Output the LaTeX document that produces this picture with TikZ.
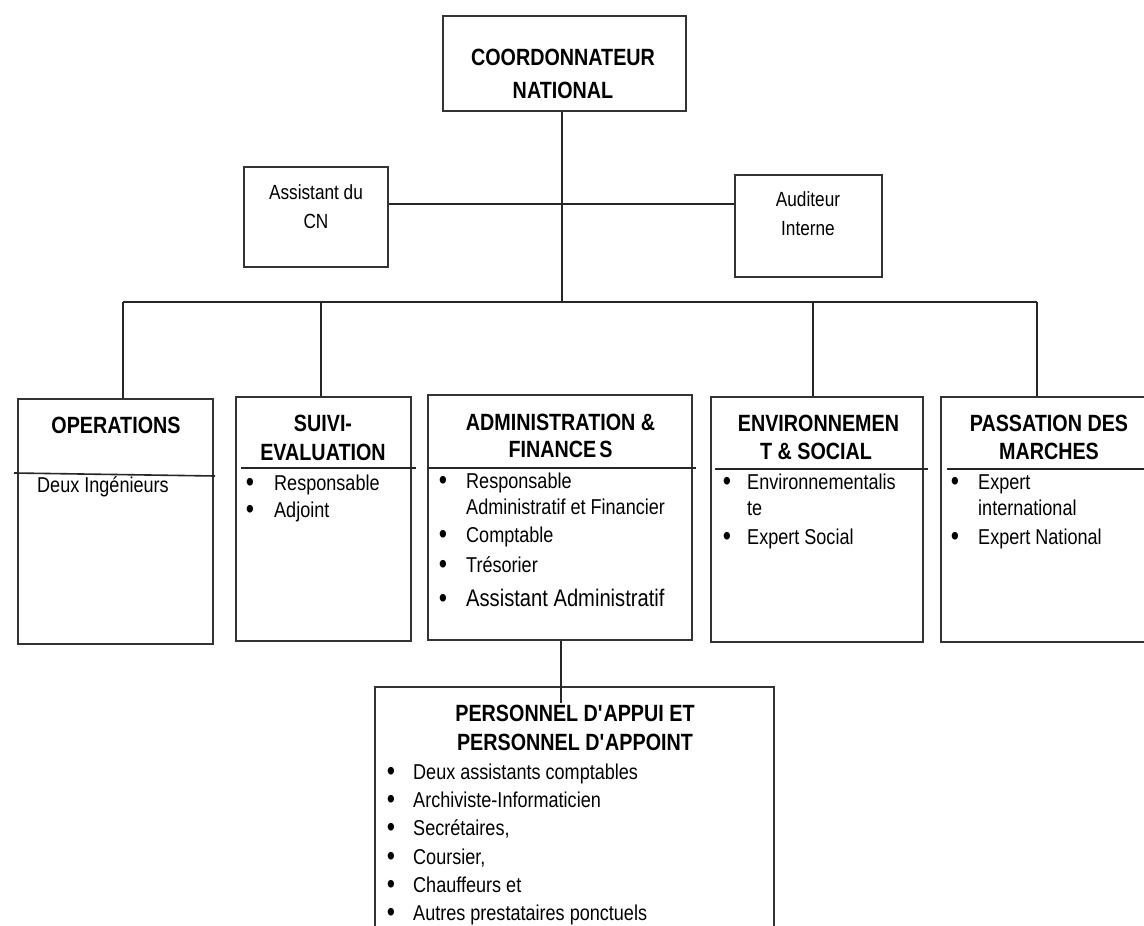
\documentclass[tikz,border=0pt]{standalone}
\usepackage{fontspec}
\setmainfont{Liberation Sans}[FakeStretch=0.84]
\begin{document}
\begin{tikzpicture}[x=1pt,y=-1pt,
  box/.style={draw=black!80, line width=2pt, inner sep=0pt, fill=none},
  link/.style={draw=black!85, line width=1.6pt},
  ttl/.style={font=\fontsize{23.5}{27}\selectfont\bfseries, anchor=base, inner sep=0pt},
  txt/.style={font=\fontsize{21.5}{27}\selectfont, anchor=base west, inner sep=0pt},
  big/.style={font=\fontsize{24}{27}\selectfont, anchor=base west, inner sep=0pt},
  small/.style={font=\fontsize{20.5}{27}\selectfont, anchor=base, inner sep=0pt},
  bul/.style={font=\fontsize{28}{27}\selectfont, anchor=base, inner sep=0pt, yshift=-1pt},
]
\clip (0,0) rectangle (1144,926);
\fill[white] (0,0) rectangle (1144,926);

% boxes
\node[box, minimum width=243pt, minimum height=95pt] (cn) at (564.5,63.5) {};
\node[box, minimum width=144pt, minimum height=100pt] (asst) at (316,217) {};
\node[box, minimum width=147pt, minimum height=102pt] (aud) at (808.5,226) {};
\node[box, minimum width=195pt, minimum height=245pt] (ops) at (115.5,521.5) {};
\node[box, minimum width=175pt, minimum height=244pt] (suivi) at (323.5,519) {};
\node[box, minimum width=264pt, minimum height=245pt] (admin) at (560,517.5) {};
\node[box, minimum width=212pt, minimum height=245pt] (env) at (817,519.5) {};
\node[box, minimum width=219pt, minimum height=245pt] (pass) at (1050.5,519.5) {};
\node[box, minimum width=399pt, minimum height=293pt] (pers) at (574.5,833.5) {};

% connectors
\coordinate (trunk) at (562,302);
\coordinate (hl) at (562,204);
\coordinate (bl) at (123,302);
\coordinate (bs) at (321,302);
\coordinate (be) at (813,302);
\coordinate (br) at (1037,302);
\coordinate (ad) at (561,703);
\draw[link] (trunk |- cn.south) -- (trunk);
\draw[link] (asst.east |- hl) -- (aud.west |- hl);
\draw[link] (bl) -- (br);
\draw[link] (bl) -- (bl |- ops.north);
\draw[link] (bs) -- (bs |- suivi.north);
\draw[link] (be) -- (be |- env.north);
\draw[link] (br) -- (br |- pass.north);
\draw[link] (ad |- admin.south) -- (ad);

% dividers
\draw[link] (14,473) -- (215,476);
\draw[link] (241,468) -- (416,468);
\draw[link] (428,468) -- (696,468);
\draw[link] (715,469) -- (928,469);
\draw[link] (947,469) -- (1144,469);

% top texts
\node[ttl] (cn1) at (563,65.5) {COORDONNATEUR};
\node[ttl] (cn2) at (563,98.5) {NATIONAL};
\node[small] (as1) at (316,199) {Assistant du};
\node[small] (as2) at (316,228) {CN};
\node[small] (au1) at (808,206) {Auditeur};
\node[small] (au2) at (808,235) {Interne};

% operations
\node[ttl] (op1) at (116,433.5) {OPERATIONS};
\node[txt] (op2) at (37,492) {Deux Ingénieurs};

% suivi
\node[ttl] (su1) at (323,431.5) {SUIVI-};
\node[ttl] (su2) at (323,460.5) {EVALUATION};
\node[bul] (sb1) at (250,490) {•};
\node[txt] (st1) at (274,490) {Responsable};
\node[bul] (sb2) at (250,517) {•};
\node[txt] (st2) at (274,517) {Adjoint};

% admin
\node[ttl] (ad1) at (560.5,430.5) {ADMINISTRATION \&};
\node[ttl] (ad2) at (560.5,457.5) {FINANCE\hspace{3pt}S};
\node[bul] (ab1) at (443,488) {•};
\node[txt] (at1) at (466,488) {Responsable};
\node[txt] (at1b) at (466,514) {Administratif et Financier};
\node[bul] (ab2) at (443,542) {•};
\node[txt] (at2) at (466,542) {Comptable};
\node[bul] (ab3) at (443,572) {•};
\node[txt] (at3) at (466,572) {Trésorier};
\node[bul] (ab4) at (443,606) {•};
\node[big] (at4) at (466,606) {Assistant Administratif};

% env
\node[ttl] (en1) at (818.5,431.5) {ENVIRONNEMEN};
\node[ttl] (en2) at (816,459.5) {T \& SOCIAL};
\node[bul] (eb1) at (727,489) {•};
\node[txt] (et1) at (747,489) {Environnementalis};
\node[txt] (et1b) at (747,515) {te};
\node[bul] (eb2) at (727,544) {•};
\node[txt] (et2) at (747,544) {Expert Social};

% pass
\node[ttl] (pa1) at (1049,431.5) {PASSATION DES};
\node[ttl] (pa2) at (1049,459.5) {MARCHES};
\node[bul] (pb1) at (955,489) {•};
\node[txt] (pt1) at (978,489) {Expert};
\node[txt] (pt1b) at (978,515) {international};
\node[bul] (pb2) at (955,544) {•};
\node[txt] (pt2) at (978,544) {Expert National};

% personnel
\node[ttl] (pe1) at (575,721.5) {PERSONNEL D\textquotesingle APPUI ET};
\node[ttl] (pe2) at (575,750.5) {PERSONNEL D\textquotesingle APPOINT};
\node[bul] (qb1) at (391,779) {•};
\node[txt] (qt1) at (413,779) {Deux assistants comptables};
\node[bul] (qb2) at (391,807) {•};
\node[txt] (qt2) at (413,807) {Archiviste-Informaticien};
\node[bul] (qb3) at (391,835) {•};
\node[txt] (qt3) at (413,835) {Secrétaires,};
\node[bul] (qb4) at (391,864) {•};
\node[txt] (qt4) at (413,864) {Coursier,};
\node[bul] (qb5) at (391,892) {•};
\node[txt] (qt5) at (413,892) {Chauffeurs et};
\node[bul] (qb6) at (391,920) {•};
\node[txt] (qt6) at (413,920) {Autres prestataires ponctuels};
\end{tikzpicture}
\end{document}
